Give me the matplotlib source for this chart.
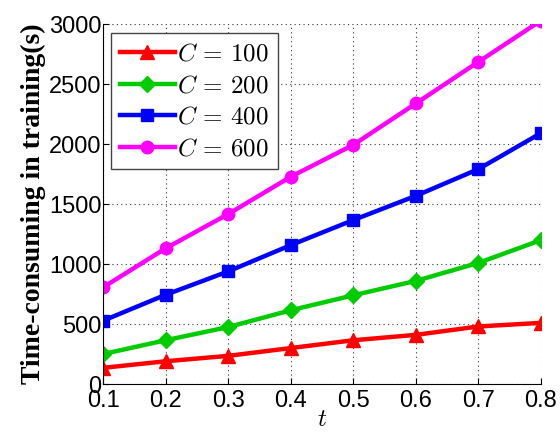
import numpy as np
import matplotlib
matplotlib.use("Agg")
import matplotlib.pyplot as plt

# Training time vs. t for several values of C
t = [0.1, 0.2, 0.3, 0.4, 0.5, 0.6, 0.7, 0.8]
time_c100 = [135, 190, 235, 300, 365, 410, 480, 510]
time_c200 = [250, 365, 475, 615, 740, 860, 1010, 1200]
time_c400 = [528, 744, 939, 1158, 1367, 1569, 1792, 2092]
time_c600 = [806, 1131, 1417, 1728, 1994, 2339, 2686, 3030]

labels = [r"$C\,=\,100$", r"$C\,=\,200$", r"$C\,=\,400$", r"$C\,=\,600$"]
colors = ["#ff0000", "#00cc00", "#0000ff", "#ff00ff"]
markers = ["^", "D", "s", "o"]
msizes = [10, 8, 9, 9]

plt.rcParams["mathtext.fontset"] = "cm"

fig = plt.figure(figsize=(5.6, 4.32), dpi=100)
ax = fig.add_axes([0.184, 0.111, 0.782, 0.833])

for y, lab, c, m, ms in zip([time_c100, time_c200, time_c400, time_c600],
                            labels, colors, markers, msizes):
    ax.plot(t, y, color=c, marker=m, ms=ms, lw=3.2, label=lab)

ax.set_xlim(0.1, 0.8)
ax.set_ylim(0, 3000)
ax.set_xticks(t)
ax.set_xticklabels([f"{v:g}" for v in t])
ax.set_yticks(np.arange(0, 3001, 500))

for s in ("top", "right"):
    ax.spines[s].set_visible(False)
ax.grid(True, linestyle=(0, (1, 3)), color="#333333", lw=0.8)
ax.tick_params(direction="in", length=4, labelsize=17)
ax.tick_params(axis="y", pad=1)
ax.tick_params(axis="x", pad=4)
for lbl in ax.get_xticklabels() + ax.get_yticklabels():
    lbl.set_family("Liberation Sans")

ax.set_xlabel(r"$t$", fontsize=18, labelpad=-3)
ax.set_ylabel("Time-consuming in training(s)", fontsize=20,
              family="Liberation Serif", fontweight="bold", labelpad=2)

leg = ax.legend(loc="upper left", fontsize=18, handlelength=2.2,
                fancybox=False, framealpha=1, edgecolor="#444444",
                borderpad=0.35, labelspacing=0.3, handletextpad=0.1,
                borderaxespad=0, bbox_to_anchor=(0.018, 0.975))
leg.get_frame().set_linewidth(1.0)

fig.savefig("out.png", dpi=100)
